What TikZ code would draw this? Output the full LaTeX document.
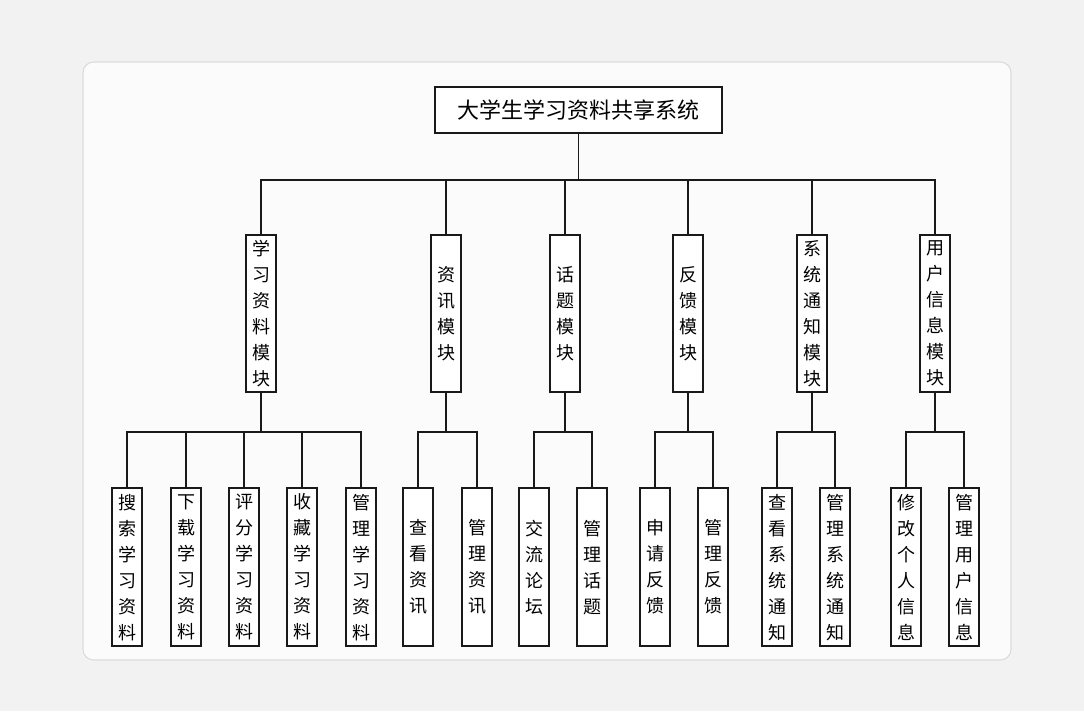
\documentclass[tikz,border=0pt]{standalone}
\usepackage{fontspec}
\setmainfont{Noto Sans CJK SC}
\begin{document}
\begin{tikzpicture}[x=0.75pt,y=-0.75pt,
  box/.style={draw=black!90,line width=1.7pt,fill=white,minimum width=22.5pt,inner xsep=0pt,inner ysep=2pt,align=center,font=\fontsize{13.5}{19.5}\selectfont},
  mod/.style={box,minimum height=117.75pt,anchor=north},
  leaf/.style={box,minimum height=118.5pt,anchor=north},
  ln/.style={line width=1.3pt,draw=black!90}]
\fill[black!5] (0,0) rectangle (1084,711);
\filldraw[fill=black!1.5,draw=black!14,line width=0.8pt,rounded corners=8pt] (83,62) rectangle (1011,660);
\node[draw=black!90,line width=1.7pt,fill=white,minimum width=215pt,minimum height=35pt,font=\fontsize{16.5}{20}\selectfont] (t) at (578.5,110) {大学生学习资料共享系统};
\foreach \n/\x/\s in {m1/261/学\\习\\资\\料\\模\\块, m2/446/资\\讯\\模\\块, m3/565/话\\题\\模\\块, m4/688/反\\馈\\模\\块, m5/812/系\\统\\通\\知\\模\\块, m6/935/用\\户\\信\\息\\模\\块}
  \node[mod] (\n) at (\x,234) {\s};
\foreach \n/\x/\s in {a1/127/搜\\索\\学\\习\\资\\料, a2/186/下\\载\\学\\习\\资\\料, a3/244/评\\分\\学\\习\\资\\料, a4/302/收\\藏\\学\\习\\资\\料, a5/361/管\\理\\学\\习\\资\\料,
  b1/418/查\\看\\资\\讯, b2/477/管\\理\\资\\讯, c1/534/交\\流\\论\\坛, c2/592/管\\理\\话\\题, d1/655/申\\请\\反\\馈, d2/713/管\\理\\反\\馈,
  e1/777/查\\看\\系\\统\\通\\知, e2/835/管\\理\\系\\统\\通\\知, f1/906/修\\改\\个\\人\\信\\息, f2/964/管\\理\\用\\户\\信\\息}
  \node[leaf] (\n) at (\x,487) {\s};
\coordinate (top) at (0,180);
\coordinate (bus) at (0,432);
\draw[ln] (t.south) -- (t.south |- top);
\draw[ln] (m1.north) -- (m1.north |- top) -- (m6.north |- top) -- (m6.north);
\foreach \m in {m2,m3,m4,m5} \draw[ln] (\m.north) -- (\m.north |- top);
\foreach \m/\l/\r in {m1/a1/a5, m2/b1/b2, m3/c1/c2, m4/d1/d2, m5/e1/e2, m6/f1/f2}{
  \draw[ln] (\m.south) -- (\m.south |- bus);
  \draw[ln] (\l.north) -- (\l.north |- bus) -- (\r.north |- bus) -- (\r.north);}
\foreach \l in {a2,a3,a4} \draw[ln] (\l.north) -- (\l.north |- bus);
\end{tikzpicture}
\end{document}
